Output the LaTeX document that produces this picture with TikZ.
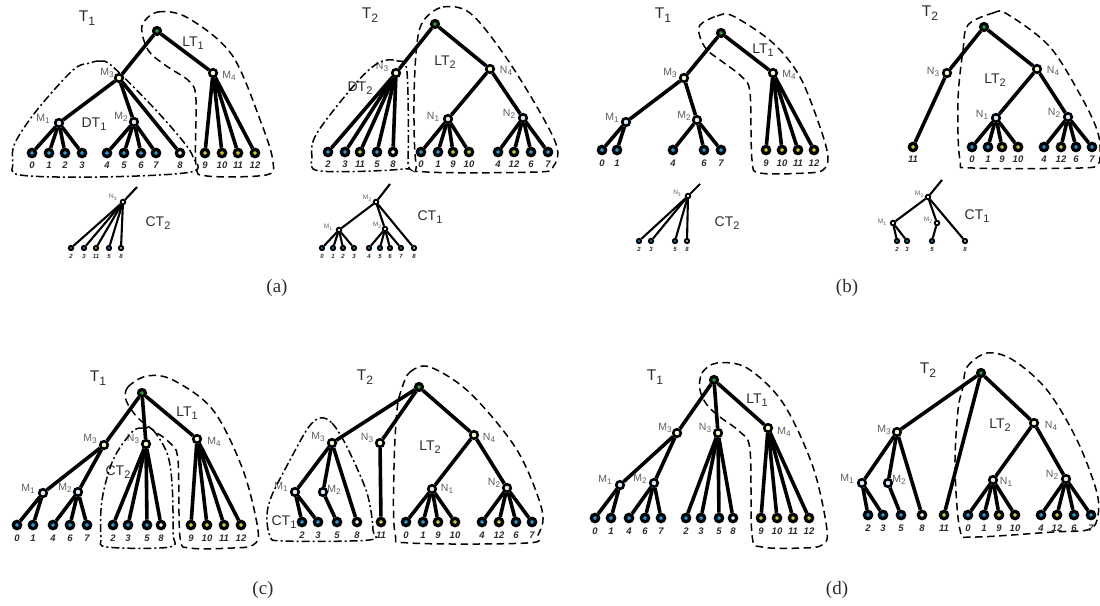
\documentclass[tikz,border=0pt]{standalone}
\usepackage{fontspec}
\setsansfont{Liberation Sans}
\setmainfont{Liberation Serif}
\pgfdeclarelayer{bg}
\pgfsetlayers{bg,main}

\definecolor{cB}{RGB}{25,160,220}
\definecolor{cY}{RGB}{210,210,25}
\definecolor{cW}{RGB}{225,240,250}
\definecolor{cG}{RGB}{40,165,60}
\definecolor{cPY}{RGB}{255,248,205}
\definecolor{cPB}{RGB}{218,236,250}
\definecolor{txt}{RGB}{45,45,45}
\definecolor{ngray}{RGB}{95,95,95}

% letter with a dropped subscript
\newcommand\lsub[2]{#1\raisebox{-0.25em}{\scalebox{0.78}{#2}}}

\tikzset{
  link/.style={line width=3.6pt, black},
  slink/.style={line width=2.1pt, black},
  nd/.style={circle, draw=black, inner sep=0pt},
  leaf/.style={nd, line width=3.3pt, minimum size=7.3pt},
  rootn/.style={nd, line width=3.1pt, minimum size=7pt, fill=cG},
  inY/.style={nd, line width=2.6pt, minimum size=7.6pt, fill=cPY},
  inB/.style={nd, line width=2.6pt, minimum size=7.6pt, fill=cPB},
  sleaf/.style={nd, line width=2pt, minimum size=4.2pt},
  sinY/.style={nd, line width=1.8pt, minimum size=4.6pt, fill=cPY},
  sinB/.style={nd, line width=1.8pt, minimum size=4.6pt, fill=cPB},
  numlab/.style={font=\sffamily\bfseries\itshape\fontsize{9.5}{9.5}\selectfont, text=txt, inner sep=0pt},
  snumlab/.style={font=\sffamily\bfseries\itshape\fontsize{6}{6}\selectfont, text=txt, inner sep=0pt},
  tlab/.style={font=\sffamily\fontsize{15.5}{15.5}\selectfont, text=txt, inner sep=0pt},
  glab/.style={font=\sffamily\fontsize{14}{14}\selectfont, text=txt, inner sep=0pt},
  nlab/.style={font=\sffamily\fontsize{10.5}{10.5}\selectfont, text=ngray, inner sep=0pt},
  snlab/.style={font=\sffamily\fontsize{6.5}{6.5}\selectfont, text=ngray, inner sep=0pt},
  captxt/.style={font=\rmfamily\fontsize{19}{19}\selectfont, text=txt, inner sep=0pt},
  dsh/.style={dash pattern=on 7.5pt off 4.5pt, line width=1.5pt},
  dshdot/.style={dash pattern=on 8pt off 3pt on 2pt off 3pt, line width=1.5pt},
}

\begin{document}
\begin{tikzpicture}[x=1pt,y=-1pt]
\begin{pgfonlayer}{bg}
\fill[white] (0,0) rectangle (1100,605);
\end{pgfonlayer}
\useasboundingbox (0,0) rectangle (1100,605);

% ===================== (a) =====================
% T1
\node[rootn] (a1r) at (157,31) {};
\node[inY] (a1m3) at (119,78) {};
\node[inY] (a1m4) at (213,73) {};
\node[inB] (a1m1) at (59,123) {};
\node[inB] (a1m2) at (134,122) {};
\foreach \n/\x/\c in {0/32/cB,1/49/cB,2/65/cB,3/82/cB,4/107/cB,5/124/cB,6/141/cB,7/156/cB,8/180/cW,9/205/cY,10/222/cY,11/238/cY,12/255/cY}{
  \node[leaf, fill=\c] (a1l\n) at (\x,153) {};
  \node[numlab] (a1t\n) at (\x,165) {\n};}
\begin{pgfonlayer}{bg}
\draw[link] (a1r) -- (a1m3);
\draw[link] (a1r) -- (a1m4);
\draw[link] (a1m3) -- (a1m1);
\draw[link] (a1m3) -- (a1m2);
\draw[link] (a1m3) -- (a1l8);
\foreach \n in {0,1,2,3} \draw[link] (a1m1) -- (a1l\n);
\foreach \n in {4,5,6,7} \draw[link] (a1m2) -- (a1l\n);
\foreach \n in {9,10,11,12} \draw[link] (a1m4) -- (a1l\n);
\end{pgfonlayer}
\node[tlab] (a1T) at (87,18) {\lsub{T}{1}};
\node[glab] (a1LT) at (193,43) {\lsub{LT}{1}};
\node[glab] (a1DT) at (94,124) {\lsub{DT}{1}};
\node[nlab] (a1M3) at (107,73) {\lsub{M}{3}};
\node[nlab] (a1M4) at (229,76) {\lsub{M}{4}};
\node[nlab] (a1M1) at (43,119) {\lsub{M}{1}};
\node[nlab] (a1M2) at (121,117) {\lsub{M}{2}};
\draw[dsh] plot[smooth cycle, tension=0.55] coordinates {(142,26) (158,12) (188,18) (232,55) (262,125) (273,162) (266,175) (207,176) (196,165) (196,100) (190,82) (165,65) (148,50)};
\draw[dshdot] plot[smooth cycle, tension=0.55] coordinates {(90,63) (100,61) (112,66) (153,107) (182,140) (193,157) (191,172) (100,177) (20,175) (13,163) (15,143) (37,110) (73,70)};

% T2
\node[rootn] (a2r) at (435,24) {};
\node[inY] (a2n3) at (396,73) {};
\node[inY] (a2n4) at (490,69) {};
\node[inB] (a2n1) at (448,119) {};
\node[inB] (a2n2) at (523,118) {};
\foreach \n/\x/\c in {2/328/cB,3/345/cB,11/360/cY,5/377/cB,8/393/cW,0/421/cB,1/438/cB,9/453/cY,10/469/cY,4/498/cB,12/514/cY,6/531/cB,7/548/cB}{
  \node[leaf, fill=\c] (a2l\n) at (\x,152) {};
  \node[numlab] (a2t\n) at (\x,164) {\n};}
\begin{pgfonlayer}{bg}
\draw[link] (a2r) -- (a2n3);
\draw[link] (a2r) -- (a2n4);
\draw[link] (a2n4) -- (a2n1);
\draw[link] (a2n4) -- (a2n2);
\foreach \n in {2,3,11,5,8} \draw[link] (a2n3) -- (a2l\n);
\foreach \n in {0,1,9,10} \draw[link] (a2n1) -- (a2l\n);
\foreach \n in {4,12,6,7} \draw[link] (a2n2) -- (a2l\n);
\end{pgfonlayer}
\node[tlab] (a2T) at (370,15) {\lsub{T}{2}};
\node[glab] (a2LT) at (445,62) {\lsub{LT}{2}};
\node[glab] (a2DT) at (360,88) {\lsub{DT}{2}};
\node[nlab] (a2N3) at (382,67) {\lsub{N}{3}};
\node[nlab] (a2N4) at (506,71) {\lsub{N}{4}};
\node[nlab] (a2N1) at (433,117) {\lsub{N}{1}};
\node[nlab] (a2N2) at (509,114) {\lsub{N}{2}};
\draw[dshdot] plot[smooth cycle, tension=0.55] coordinates {(380,62) (398,61) (407,72) (408,160) (403,169) (320,171) (312,157) (317,133) (357,82)};
\draw[dsh] plot[smooth cycle, tension=0.55] coordinates {(424,20) (443,7) (470,13) (503,53) (537,107) (557,147) (553,167) (537,172) (427,172) (416,163) (414,100) (417,43)};

% CT2
\node[sinY] (a3n3) at (123,202) {};
\coordinate (a3s) at (137,187);
\foreach \n/\x/\c in {2/71/cB,3/84/cB,11/96/cY,5/109/cB,8/121/cW}{
  \node[sleaf, fill=\c] (a3l\n) at (\x,248) {};
  \node[snumlab] (a3t\n) at (\x,256) {\n};}
\begin{pgfonlayer}{bg}
\draw[slink] (a3n3) -- (a3s);
\foreach \n in {2,3,11,5,8} \draw[slink] (a3n3) -- (a3l\n);
\end{pgfonlayer}
\node[snlab] (a3N3) at (113,197) {\lsub{N}{3}};
\node[glab] (a3CT) at (158,223) {\lsub{CT}{2}};

% CT1
\node[sinY] (a4m3) at (376,202) {};
\coordinate (a4s) at (390,184);
\node[sinB] (a4m1) at (339,230) {};
\node[sinB] (a4m2) at (385,229) {};
\foreach \n/\x/\c in {0/322/cB,1/333/cB,2/343/cB,3/354/cB,4/369/cB,5/380/cB,6/390/cB,7/401/cB,8/414/cW}{
  \node[sleaf, fill=\c] (a4l\n) at (\x,248) {};
  \node[snumlab] (a4t\n) at (\x,256) {\n};}
\begin{pgfonlayer}{bg}
\draw[slink] (a4m3) -- (a4s);
\draw[slink] (a4m3) -- (a4m1);
\draw[slink] (a4m3) -- (a4m2);
\draw[slink] (a4m3) -- (a4l8);
\foreach \n in {0,1,2,3} \draw[slink] (a4m1) -- (a4l\n);
\foreach \n in {4,5,6,7} \draw[slink] (a4m2) -- (a4l\n);
\end{pgfonlayer}
\node[snlab] (a4M3) at (367,198) {\lsub{M}{3}};
\node[snlab] (a4M1) at (328,227) {\lsub{M}{1}};
\node[snlab] (a4M2) at (377,225) {\lsub{M}{2}};
\node[glab] (a4CT) at (430,217) {\lsub{CT}{1}};

\node[captxt] (capa) at (277,288) {(a)};

% ===================== (b) =====================
% T1
\node[rootn] (b1r) at (721,33) {};
\node[inY] (b1m3) at (684,78) {};
\node[inY] (b1m4) at (773,73) {};
\node[inB] (b1m1) at (626,122) {};
\node[inB] (b1m2) at (697,120) {};
\foreach \n/\x/\c in {0/602/cB,1/617/cB,4/673/cB,6/704/cB,7/721/cB,9/766/cY,10/782/cY,11/798/cY,12/814/cY}{
  \node[leaf, fill=\c] (b1l\n) at (\x,150) {};
  \node[numlab] (b1t\n) at (\x,163) {\n};}
\begin{pgfonlayer}{bg}
\draw[link] (b1r) -- (b1m3);
\draw[link] (b1r) -- (b1m4);
\draw[link] (b1m3) -- (b1m1);
\draw[link] (b1m3) -- (b1m2);
\foreach \n in {0,1} \draw[link] (b1m1) -- (b1l\n);
\foreach \n in {4,6,7} \draw[link] (b1m2) -- (b1l\n);
\foreach \n in {9,10,11,12} \draw[link] (b1m4) -- (b1l\n);
\end{pgfonlayer}
\node[tlab] (b1T) at (663,15) {\lsub{T}{1}};
\node[glab] (b1LT) at (763,50) {\lsub{LT}{1}};
\node[nlab] (b1M3) at (670,73) {\lsub{M}{3}};
\node[nlab] (b1M4) at (789,75) {\lsub{M}{4}};
\node[nlab] (b1M1) at (612,118) {\lsub{M}{1}};
\node[nlab] (b1M2) at (684,116) {\lsub{M}{2}};
\draw[dsh] plot[smooth cycle, tension=0.55] coordinates {(700,25) (717,16) (733,16) (773,43) (800,77) (820,127) (828,157) (823,170) (807,173) (760,173) (752,160) (750,93) (742,77) (720,60) (707,50) (700,37)};

% T2
\node[rootn] (b2r) at (984,27) {};
\node[inY] (b2n3) at (947,73) {};
\node[inY] (b2n4) at (1037,69) {};
\node[inB] (b2n1) at (996,118) {};
\node[inB] (b2n2) at (1068,117) {};
\foreach \n/\x/\c in {11/913/cY,0/972/cB,1/988/cB,9/1002/cY,10/1018/cY,4/1044/cB,12/1061/cY,6/1076/cB,7/1092/cB}{
  \node[leaf, fill=\c] (b2l\n) at (\x,147) {};
  \node[numlab] (b2t\n) at (\x,159) {\n};}
\begin{pgfonlayer}{bg}
\draw[link] (b2r) -- (b2n3);
\draw[link] (b2r) -- (b2n4);
\draw[link] (b2n3) -- (b2l11);
\draw[link] (b2n4) -- (b2n1);
\draw[link] (b2n4) -- (b2n2);
\foreach \n in {0,1,9,10} \draw[link] (b2n1) -- (b2l\n);
\foreach \n in {4,12,6,7} \draw[link] (b2n2) -- (b2l\n);
\end{pgfonlayer}
\node[tlab] (b2T) at (930,13) {\lsub{T}{2}};
\node[glab] (b2LT) at (995,80) {\lsub{LT}{2}};
\node[nlab] (b2N3) at (933,72) {\lsub{N}{3}};
\node[nlab] (b2N4) at (1053,71) {\lsub{N}{4}};
\node[nlab] (b2N1) at (982,115) {\lsub{N}{1}};
\node[nlab] (b2N2) at (1054,113) {\lsub{N}{2}};
\draw[dsh] plot[smooth cycle, tension=0.55] coordinates {(968,25) (993,13) (1007,14) (1050,47) (1083,100) (1098,133) (1100,157) (1097,165) (1080,168) (973,168) (960,160) (958,100) (963,50)};

% CT2
\node[sinY] (b3n3) at (688,196) {};
\coordinate (b3s) at (700,184);
\foreach \n/\x/\c in {2/639/cB,3/651/cB,5/675/cB,8/687/cW}{
  \node[sleaf, fill=\c] (b3l\n) at (\x,241) {};
  \node[snumlab] (b3t\n) at (\x,249) {\n};}
\begin{pgfonlayer}{bg}
\draw[slink] (b3n3) -- (b3s);
\foreach \n in {2,3,5,8} \draw[slink] (b3n3) -- (b3l\n);
\end{pgfonlayer}
\node[snlab] (b3N3) at (677,193) {\lsub{N}{3}};
\node[glab] (b3CT) at (727,223) {\lsub{CT}{2}};

% CT1
\node[sinY] (b4m3) at (928,197) {};
\coordinate (b4s) at (942,180);
\node[sinB] (b4m1) at (893,223) {};
\node[sinB] (b4m2) at (937,223) {};
\foreach \n/\x/\c in {2/897/cB,3/907/cB,5/932/cB,8/965/cW}{
  \node[sleaf, fill=\c] (b4l\n) at (\x,241) {};
  \node[snumlab] (b4t\n) at (\x,249) {\n};}
\begin{pgfonlayer}{bg}
\draw[slink] (b4m3) -- (b4s);
\draw[slink] (b4m3) -- (b4m1);
\draw[slink] (b4m3) -- (b4m2);
\draw[slink] (b4m3) -- (b4l8);
\foreach \n in {2,3} \draw[slink] (b4m1) -- (b4l\n);
\draw[slink] (b4m2) -- (b4l5);
\end{pgfonlayer}
\node[snlab] (b4M3) at (919,194) {\lsub{M}{3}};
\node[snlab] (b4M1) at (882,222) {\lsub{M}{1}};
\node[snlab] (b4M2) at (928,220) {\lsub{M}{2}};
\node[glab] (b4CT) at (977,216) {\lsub{CT}{1}};

\node[captxt] (capb) at (847,288) {(b)};

% ===================== (c) =====================
% T1
\node[rootn] (c1r) at (142,393) {};
\node[inY] (c1m3) at (104,445) {};
\node[inY] (c1n3) at (146,444) {};
\node[inY] (c1m4) at (197,439) {};
\node[inB] (c1m1) at (43,493) {};
\node[inB] (c1m2) at (78,492) {};
\foreach \n/\x/\c in {0/17/cB,1/33/cB,4/53/cB,6/70/cB,7/87/cB,2/113/cB,3/128/cB,5/147/cB,8/161/cW,9/191/cY,10/207/cY,11/224/cY,12/241/cY}{
  \node[leaf, fill=\c] (c1l\n) at (\x,525) {};
  \node[numlab] (c1t\n) at (\x,538) {\n};}
\begin{pgfonlayer}{bg}
\draw[link] (c1r) -- (c1m3);
\draw[link] (c1r) -- (c1n3);
\draw[link] (c1r) -- (c1m4);
\draw[link] (c1m3) -- (c1m1);
\draw[link] (c1m3) -- (c1m2);
\foreach \n in {0,1} \draw[link] (c1m1) -- (c1l\n);
\foreach \n in {4,6,7} \draw[link] (c1m2) -- (c1l\n);
\foreach \n in {2,3,5,8} \draw[link] (c1n3) -- (c1l\n);
\foreach \n in {9,10,11,12} \draw[link] (c1m4) -- (c1l\n);
\end{pgfonlayer}
\node[tlab] (c1T) at (98,378) {\lsub{T}{1}};
\node[glab] (c1LT) at (187,413) {\lsub{LT}{1}};
\node[glab] (c1CT) at (118,472) {\lsub{CT}{2}};
\node[nlab] (c1M3) at (90,439) {\lsub{M}{3}};
\node[nlab] (c1N3) at (133,439) {\lsub{N}{3}};
\node[nlab] (c1M4) at (214,442) {\lsub{M}{4}};
\node[nlab] (c1M1) at (28,489) {\lsub{M}{1}};
\node[nlab] (c1M2) at (65,488) {\lsub{M}{2}};
\draw[dshdot] plot[smooth cycle, tension=0.55] coordinates {(143,428) (153,430) (167,453) (172,483) (173,533) (170,547) (107,547) (101,537) (102,500) (113,460) (132,432)};
\draw[dsh] plot[smooth cycle, tension=0.55] coordinates {(126,400) (128,387) (147,376) (173,380) (213,410) (243,470) (258,530) (253,545) (233,548) (190,548) (180,537) (178,460) (170,443) (153,430) (137,417)};

% T2
\node[rootn] (c2r) at (419,387) {};
\node[inY] (c2m3) at (332,443) {};
\node[inY] (c2n3) at (380,443) {};
\node[inY] (c2n4) at (474,435) {};
\node[inB] (c2m1) at (295,492) {};
\node[inB] (c2m2) at (323,492) {};
\node[inB] (c2n1) at (432,489) {};
\node[inB] (c2n2) at (507,488) {};
\foreach \n/\x/\c in {2/302/cB,3/318/cB,5/337/cB,8/357/cW,11/381/cY,0/406/cB,1/423/cB,9/438/cY,10/455/cY,4/482/cB,12/499/cY,6/516/cB,7/532/cB}{
  \node[leaf, fill=\c] (c2l\n) at (\x,522) {};
  \node[numlab] (c2t\n) at (\x,535) {\n};}
\begin{pgfonlayer}{bg}
\draw[link] (c2r) -- (c2m3);
\draw[link] (c2r) -- (c2n3);
\draw[link] (c2r) -- (c2n4);
\draw[link] (c2m3) -- (c2m1);
\draw[link] (c2m3) -- (c2m2);
\draw[link] (c2m3) -- (c2l8);
\foreach \n in {2,3} \draw[link] (c2m1) -- (c2l\n);
\draw[link] (c2m2) -- (c2l5);
\draw[link] (c2n3) -- (c2l11);
\draw[link] (c2n4) -- (c2n1);
\draw[link] (c2n4) -- (c2n2);
\foreach \n in {0,1,9,10} \draw[link] (c2n1) -- (c2l\n);
\foreach \n in {4,12,6,7} \draw[link] (c2n2) -- (c2l\n);
\end{pgfonlayer}
\node[tlab] (c2T) at (365,377) {\lsub{T}{2}};
\node[glab] (c2LT) at (430,447) {\lsub{LT}{2}};
\node[glab] (c2CT) at (284,522) {\lsub{CT}{1}};
\node[nlab] (c2M3) at (318,437) {\lsub{M}{3}};
\node[nlab] (c2N3) at (367,438) {\lsub{N}{3}};
\node[nlab] (c2N4) at (489,438) {\lsub{N}{4}};
\node[nlab] (c2M1) at (281,487) {\lsub{M}{1}};
\node[nlab] (c2M2) at (334,490) {\lsub{M}{2}};
\node[nlab] (c2N1) at (447,489) {\lsub{N}{1}};
\node[nlab] (c2N2) at (494,483) {\lsub{N}{2}};
\draw[dshdot] plot[smooth cycle, tension=0.55] coordinates {(320,418) (332,423) (347,447) (367,493) (373,530) (369,540) (283,541) (270,536) (267,515) (272,495) (290,460) (308,428)};
\draw[dsh] plot[smooth cycle, tension=0.55] coordinates {(402,388) (410,372) (430,367) (470,393) (517,450) (542,510) (538,535) (527,543) (410,543) (395,533) (394,467) (397,410)};

\node[captxt] (capc) at (263,590) {(c)};

% ===================== (d) =====================
% T1
\node[rootn] (d1r) at (714,380) {};
\node[inY] (d1m3) at (677,433) {};
\node[inY] (d1n3) at (718,433) {};
\node[inY] (d1m4) at (768,428) {};
\node[inB] (d1m1) at (620,485) {};
\node[inB] (d1m2) at (654,483) {};
\foreach \n/\x/\c in {0/595/cB,1/611/cB,4/629/cB,6/645/cB,7/661/cB,2/686/cB,3/701/cB,5/719/cB,8/733/cW,9/761/cY,10/777/cY,11/793/cY,12/809/cY}{
  \node[leaf, fill=\c] (d1l\n) at (\x,518) {};
  \node[numlab] (d1t\n) at (\x,531) {\n};}
\begin{pgfonlayer}{bg}
\draw[link] (d1r) -- (d1m3);
\draw[link] (d1r) -- (d1n3);
\draw[link] (d1r) -- (d1m4);
\draw[link] (d1m3) -- (d1m1);
\draw[link] (d1m3) -- (d1m2);
\foreach \n in {0,1} \draw[link] (d1m1) -- (d1l\n);
\foreach \n in {4,6,7} \draw[link] (d1m2) -- (d1l\n);
\foreach \n in {2,3,5,8} \draw[link] (d1n3) -- (d1l\n);
\foreach \n in {9,10,11,12} \draw[link] (d1m4) -- (d1l\n);
\end{pgfonlayer}
\node[tlab] (d1T) at (655,377) {\lsub{T}{1}};
\node[glab] (d1LT) at (757,400) {\lsub{LT}{1}};
\node[nlab] (d1M3) at (665,428) {\lsub{M}{3}};
\node[nlab] (d1N3) at (705,428) {\lsub{N}{3}};
\node[nlab] (d1M4) at (784,432) {\lsub{M}{4}};
\node[nlab] (d1M1) at (605,480) {\lsub{M}{1}};
\node[nlab] (d1M2) at (640,479) {\lsub{M}{2}};
\draw[dsh] plot[smooth cycle, tension=0.55] coordinates {(700,390) (702,373) (717,363) (747,368) (783,403) (813,467) (827,530) (822,545) (803,548) (762,547) (752,535) (750,450) (740,432) (720,417) (707,405)};

% T2
\node[rootn] (d2r) at (981,373) {};
\node[inY] (d2m3) at (897,432) {};
\node[inY] (d2n4) at (1034,423) {};
\node[inB] (d2m1) at (862,483) {};
\node[inB] (d2m2) at (888,483) {};
\node[inB] (d2n1) at (993,480) {};
\node[inB] (d2n2) at (1066,479) {};
\foreach \n/\x/\c in {2/868/cB,3/883/cB,5/901/cB,8/922/cW,11/944/cY,0/968/cB,1/984/cB,9/999/cY,10/1015/cY,4/1041/cB,12/1057/cY,6/1074/cB,7/1091/cB}{
  \node[leaf, fill=\c] (d2l\n) at (\x,515) {};
  \node[numlab] (d2t\n) at (\x,528) {\n};}
\begin{pgfonlayer}{bg}
\draw[link] (d2r) -- (d2m3);
\draw[link] (d2r) -- (d2l11);
\draw[link] (d2r) -- (d2n4);
\draw[link] (d2m3) -- (d2m1);
\draw[link] (d2m3) -- (d2m2);
\draw[link] (d2m3) -- (d2l8);
\foreach \n in {2,3} \draw[link] (d2m1) -- (d2l\n);
\draw[link] (d2m2) -- (d2l5);
\draw[link] (d2n4) -- (d2n1);
\draw[link] (d2n4) -- (d2n2);
\foreach \n in {0,1,9,10} \draw[link] (d2n1) -- (d2l\n);
\foreach \n in {4,12,6,7} \draw[link] (d2n2) -- (d2l\n);
\end{pgfonlayer}
\node[tlab] (d2T) at (928,370) {\lsub{T}{2}};
\node[glab] (d2LT) at (1000,425) {\lsub{LT}{2}};
\node[nlab] (d2M3) at (884,430) {\lsub{M}{3}};
\node[nlab] (d2N4) at (1051,426) {\lsub{N}{4}};
\node[nlab] (d2M1) at (847,479) {\lsub{M}{1}};
\node[nlab] (d2M2) at (899,480) {\lsub{M}{2}};
\node[nlab] (d2N1) at (1006,482) {\lsub{N}{1}};
\node[nlab] (d2N2) at (1052,475) {\lsub{N}{2}};
\draw[dsh] plot[smooth cycle, tension=0.55] coordinates {(963,387) (967,367) (987,353) (1013,360) (1047,390) (1077,440) (1097,493) (1097,520) (1087,530) (1053,532) (973,537) (960,530) (955,467) (958,410)};

\node[captxt] (capd) at (837,590) {(d)};
\end{tikzpicture}
\end{document}
